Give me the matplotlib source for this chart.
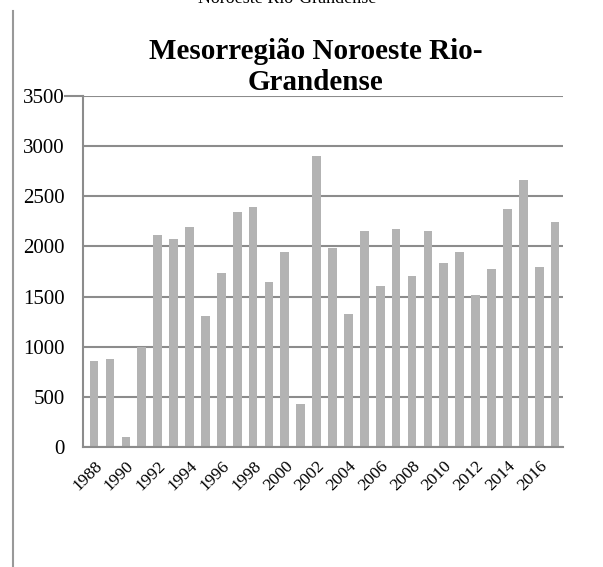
import numpy as np
import matplotlib
matplotlib.use("Agg")
import matplotlib.pyplot as plt
from matplotlib.lines import Line2D

plt.rcParams['font.family'] = ['Liberation Serif', 'DejaVu Serif']

anos = list(range(1988, 2018))
valores = [857, 880, 95, 994, 2114, 2074, 2196, 1303, 1732, 2346,
           2390, 1645, 1941, 429, 2901, 1987, 1326, 2153, 1602, 2176,
           1708, 2153, 1837, 1944, 1518, 1772, 2370, 2665, 1798, 2240]
yticks = [0, 500, 1000, 1500, 2000, 2500, 3000, 3500]
titulo = "Mesorregião Noroeste Rio-\nGrandense"

cinza_barra = '#b3b3b3'
cinza_linha = '#8c8c8c'

fig = plt.figure(figsize=(6.03, 5.67), dpi=100)
ax = fig.add_axes([83/603, 1-447/567, 480/603, 351/567])

x = np.arange(len(anos))
ax.bar(x, valores, width=0.55, color=cinza_barra, zorder=3)

ax.set_ylim(0, yticks[-1])
ax.set_yticks(yticks)
ax.set_yticklabels([str(v) for v in yticks], fontsize=15)
ax.yaxis.grid(True, color=cinza_linha, linewidth=1.5, zorder=0)
ax.set_xlim(-0.7, len(anos) - 0.5)
ax.set_xticks(x[::2])
ax.set_xticklabels([str(a) for a in anos[::2]], rotation=45, ha='right',
                   rotation_mode='anchor', fontsize=12.5)
ax.tick_params(axis='y', length=0, pad=13)
ax.tick_params(axis='x', length=0, pad=8)

# linha do topo passa um pouco para a esquerda do eixo
ax.plot([-18/480, 0], [yticks[-1]] * 2, transform=ax.get_yaxis_transform(),
        color=cinza_linha, linewidth=1.5, clip_on=False)

for s in ['top', 'right']:
    ax.spines[s].set_visible(False)
ax.spines['left'].set_color(cinza_linha)
ax.spines['left'].set_linewidth(1.5)
ax.spines['bottom'].set_color(cinza_linha)
ax.spines['bottom'].set_linewidth(1.5)
ax.spines['bottom'].set_zorder(4)

fig.text(316/603, 1-90/567, titulo, ha='center', va='baseline',
         fontsize=21, fontweight='bold', linespacing=1.2)
fig.text(287/603, 1-3/567, "Noroeste Rio-Grandense", ha='center',
         va='baseline', fontsize=13)

# borda lateral esquerda
fig.add_artist(Line2D([13/603, 13/603], [0, 1-11/567],
                      transform=fig.transFigure, color='#999999', linewidth=1.5))

fig.savefig('out.png', dpi=100)
